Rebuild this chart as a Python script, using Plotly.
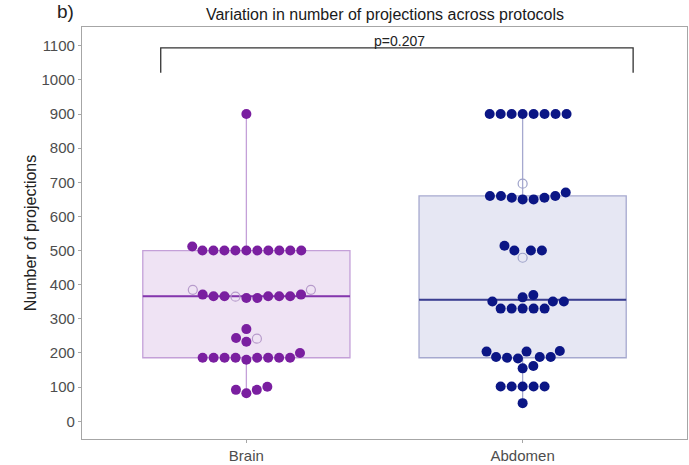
import math
import plotly.graph_objects as go

# ---- data -------------------------------------------------------------
groups = ["Brain", "Abdomen"]

brain_filled = [900, 512,
                500, 500, 500, 500, 500, 500, 500, 500, 500, 500,
                371, 366, 366, 361, 361, 366, 366, 366, 371,
                270, 244, 233,
                180, 186, 186, 186, 186, 186, 186, 186, 186, 200,
                101, 92, 82, 92]
brain_open = [365, 385, 385, 242]

abdomen_filled = [900, 900, 900, 900, 900, 900, 900, 900,
                  660, 660, 655, 650, 670, 650, 655, 660,
                  514, 500, 500, 500,
                  363, 351, 351, 351, 370, 330, 330, 330, 330, 330,
                  206, 188, 188, 184, 188, 186, 204, 204,
                  155, 162,
                  102, 102, 102, 102, 102,
                  53]
abdomen_open = [696, 479]

# box statistics: lower whisker, Q1, median, Q3, upper whisker
brain_box = [82, 186, 366, 500, 900]
abdomen_box = [53, 186, 356, 660, 900]

p_label = "p=0.207"
y_ticks = list(range(0, 1101, 100))

# ---- geometry ---------------------------------------------------------
W, H = 689, 465
ML, MR, MT, MB = 82, 1, 27, 23
X_RANGE = [-0.595, 1.595]
Y_RANGE = [-52, 1155]
KX = (W - ML - MR) / (X_RANGE[1] - X_RANGE[0])   # px per x unit
KY = (H - MT - MB) / (Y_RANGE[1] - Y_RANGE[0])   # px per y unit
DOT = 10        # marker diameter, px
GAP = 11        # centre-to-centre spacing in the swarm, px
BOX_W = 0.75


def swarm(values):
    """Beeswarm offsets (x data units) for a list of y values."""
    order = sorted(range(len(values)), key=lambda i: values[i])
    placed = []
    offsets = [0.0] * len(values)
    for i in order:
        y = values[i] * KY
        cands = [0.0]
        for xj, yj in placed:
            dy = abs(y - yj)
            if dy < GAP:
                dx = math.sqrt(GAP * GAP - dy * dy)
                cands += [xj + dx, xj - dx]
        ok = [c for c in cands
              if all((c - xj) ** 2 + (y - yj) ** 2 >= GAP * GAP - 1e-6
                     for xj, yj in placed)]
        best = min(ok, key=lambda c: (round(abs(c), 6), -c))
        placed.append((best, y))
        offsets[i] = best / KX
    return offsets


styles = {
    "Brain": dict(dot="#7a1fa0", open="#b79bcb", fill="#efe3f4",
                  edge="#c4a0d8", med="#8436ad"),
    "Abdomen": dict(dot="#0b1685", open="#9ea2c9", fill="#e6e7f3",
                    edge="#a6a9cf", med="#3b3f91"),
}
series = {
    "Brain": (brain_filled, brain_open, brain_box),
    "Abdomen": (abdomen_filled, abdomen_open, abdomen_box),
}

fig = go.Figure()

for gi, g in enumerate(groups):
    filled, hollow, stats = series[g]
    st = styles[g]
    lo, q1, med, q3, hi = stats
    fig.add_trace(go.Box(
        x=[gi], lowerfence=[lo], q1=[q1], median=[med], q3=[q3],
        upperfence=[hi], width=BOX_W, whiskerwidth=0,
        fillcolor=st["fill"], line=dict(color=st["edge"], width=1.3),
        boxpoints=False, hoverinfo="skip", showlegend=False))
    fig.add_trace(go.Scatter(
        x=[gi - BOX_W / 2, gi + BOX_W / 2], y=[med, med], mode="lines",
        line=dict(color=st["med"], width=2), showlegend=False,
        hoverinfo="skip"))

    values = filled + hollow
    offs = swarm(values)
    nf = len(filled)
    fig.add_trace(go.Scatter(
        x=[gi + o for o in offs[:nf]], y=filled, mode="markers",
        marker=dict(size=DOT, color=st["dot"], line=dict(width=0)),
        showlegend=False))
    fig.add_trace(go.Scatter(
        x=[gi + o for o in offs[nf:]], y=hollow, mode="markers",
        marker=dict(size=DOT - 1, symbol="circle-open", color=st["open"],
                    line=dict(width=1.2)),
        showlegend=False))

# significance bracket
bx0, bx1, by0, by1 = -0.31, 1.40, 1021, 1094
fig.add_trace(go.Scatter(
    x=[bx0, bx0, bx1, bx1], y=[by0, by1, by1, by0], mode="lines",
    line=dict(color="#333333", width=1.3), showlegend=False,
    hoverinfo="skip"))
fig.add_annotation(x=(bx0 + bx1) / 2 + 0.01, y=by1, yanchor="bottom",
                   text=p_label, showarrow=False, yshift=-3,
                   font=dict(size=14, color="#222222",
                             family="Liberation Sans, Arial"))

# panel tag in the corner
fig.add_annotation(xref="paper", yref="paper", x=-0.027, y=1.0,
                   xanchor="center", yanchor="bottom", yshift=3,
                   text="b)", showarrow=False,
                   font=dict(size=19, color="#222222",
                             family="Liberation Sans, Arial"))

axis_font = dict(size=15, color="#4d4d4d", family="Liberation Sans, Arial")
fig.update_layout(
    width=W, height=H,
    margin=dict(l=ML, r=MR, t=MT, b=MB),
    paper_bgcolor="white", plot_bgcolor="white",
    title=dict(text="Variation in number of projections across protocols",
               x=(ML + (W - ML - MR) / 2) / W, xanchor="center",
               y=1 - 14 / H, yanchor="middle",
               font=dict(size=16, color="#1a1a1a",
                         family="Liberation Sans, Arial")),
    xaxis=dict(range=X_RANGE, tickvals=[0, 1], ticktext=groups,
               showgrid=False, zeroline=False, showline=True,
               linecolor="#a6a6a6", linewidth=1.2, mirror=True,
               ticks="outside", ticklen=3, tickcolor="#a6a6a6",
               tickfont=dict(size=15, color="#4d4d4d",
                             family="Liberation Sans, Arial")),
    yaxis=dict(range=Y_RANGE, tickvals=y_ticks, showgrid=False,
               zeroline=False, showline=True, linecolor="#a6a6a6",
               linewidth=1.2, mirror=True, ticks="outside", ticklen=3,
               tickcolor="#a6a6a6", tickfont=axis_font,
               title=dict(text="Number of projections", standoff=0,
                          font=dict(size=16, color="#222222",
                                    family="Liberation Sans, Arial"))),
)

fig.write_html("out.html")
